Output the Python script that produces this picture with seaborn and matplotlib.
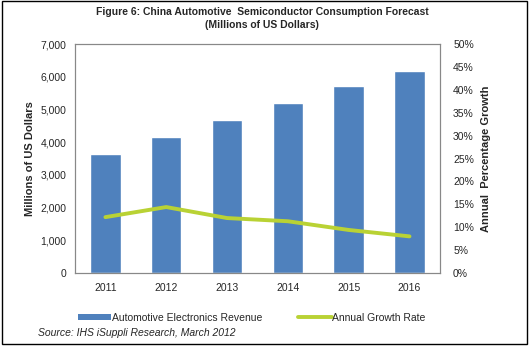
import matplotlib
matplotlib.use('Agg')
import matplotlib.pyplot as plt
import seaborn as sns
import pandas as pd
from matplotlib.ticker import FuncFormatter
from matplotlib.patches import Rectangle
from matplotlib.lines import Line2D
from matplotlib.patches import Patch

years = ['2011', '2012', '2013', '2014', '2015', '2016']
revenue = [3640, 4160, 4680, 5200, 5720, 6180]
growth = [12.2, 14.4, 12.0, 11.3, 9.4, 8.0]

bar_color = '#4F81BD'
line_color = '#B9D234'

sns.set_style('white')
plt.rcParams['font.family'] = ['Liberation Sans', 'DejaVu Sans']

df = pd.DataFrame({'Year': years, 'Revenue': revenue, 'Growth': growth})

fig = plt.figure(figsize=(5.3, 3.52), dpi=100)
ax = fig.add_axes([0.1415, 0.2244, 0.6885, 0.6506])

sns.barplot(data=df, x='Year', y='Revenue', color=bar_color, width=0.5,
            saturation=1, ax=ax)
ax.set_ylim(0, 7000)
ax.set_yticks(range(0, 7001, 1000))
ax.yaxis.set_major_formatter(FuncFormatter(lambda v, p: f'{int(v):,}'))
ax.set_xlabel('')
ax.set_ylabel('Millions of US Dollars', fontsize=8, fontweight='bold', labelpad=4)
ax.tick_params(axis='y', labelsize=7.5, length=0, pad=6)
ax.tick_params(axis='x', labelsize=7.5, length=0, pad=7)
ax.set_xlim(-0.5, len(years) - 0.5)

ax2 = ax.twinx()
sns.lineplot(x=list(range(len(years))), y=df['Growth'], color=line_color,
             linewidth=2.8, ax=ax2)
ax2.set_ylim(0, 50)
ax2.set_yticks(range(0, 51, 5))
ax2.yaxis.set_major_formatter(FuncFormatter(lambda v, p: f'{int(v)}%'))
ax2.set_ylabel('Annual  Percentage Growth', fontsize=8, fontweight='bold', labelpad=5)
ax2.tick_params(axis='y', labelsize=7.5, length=0, pad=9.5)

for a in (ax, ax2):
    for s in a.spines.values():
        s.set_color('#888888')
        s.set_linewidth(0.8)

fig.text(0.495, 0.965, 'Figure 6: China Automotive  Semiconductor Consumption Forecast',
         ha='center', va='center', fontsize=7.5, fontweight='bold')
fig.text(0.495, 0.928, '(Millions of US Dollars)',
         ha='center', va='center', fontsize=7.5, fontweight='bold')

handles = [Patch(facecolor=bar_color, edgecolor='none'),
           Line2D([0], [0], color=line_color, linewidth=2.8)]
fig.legend(handles, ['Automotive Electronics Revenue', 'Annual Growth Rate'],
           loc='center', bbox_to_anchor=(0.475, 0.098), ncol=2, frameon=False,
           fontsize=7.5, handlelength=3.2, handletextpad=0.05, columnspacing=3.5,
           handleheight=0.6)

fig.text(0.072, 0.055, 'Source: IHS iSuppli Research, March 2012',
         ha='left', va='center', fontsize=7.5, style='italic')

fig.patches.append(Rectangle((0.003, 0.022), 0.992, 0.975, transform=fig.transFigure,
                             fill=False, edgecolor='black', linewidth=1))

fig.savefig('out.png', dpi=100)
